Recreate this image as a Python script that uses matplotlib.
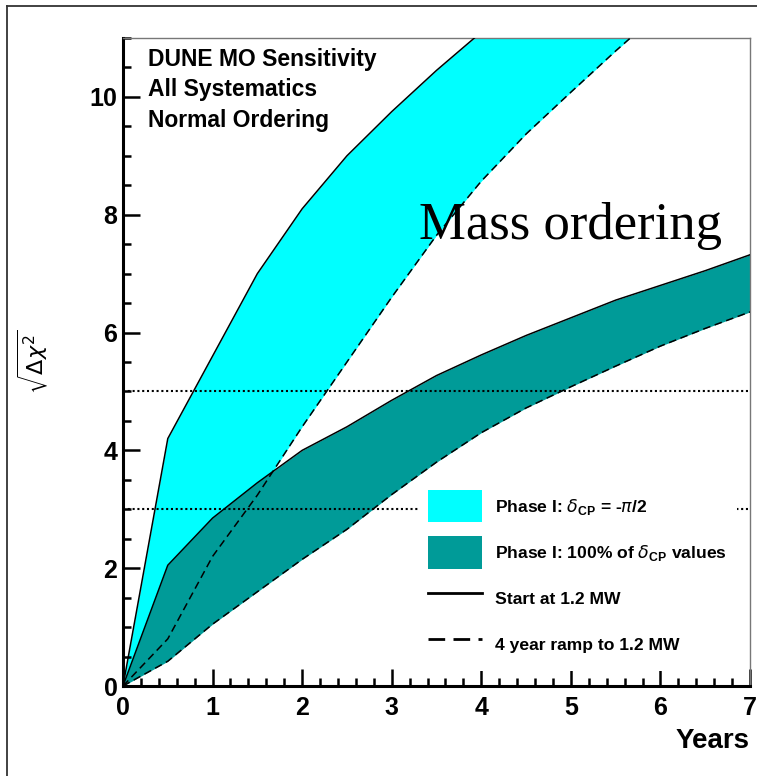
import matplotlib
matplotlib.use("Agg")
import matplotlib.pyplot as plt
from matplotlib.patches import Patch
from matplotlib.lines import Line2D
from matplotlib.ticker import MultipleLocator

plt.rcParams['font.family'] = ['Liberation Sans', 'DejaVu Sans']
plt.rcParams['mathtext.fontset'] = 'dejavusans'

# years of exposure
years_cyan = [0, 0.5, 1, 1.5, 2, 2.5, 3, 3.5, 4, 4.5, 5, 5.5, 6]
years_teal = [0, 0.5, 1, 1.5, 2, 2.5, 3, 3.5, 4, 4.5, 5, 5.5, 6, 6.5, 7]

# sqrt(dchi2), delta_CP = -pi/2
cyan_full = [0, 4.2, 5.6, 7.0, 8.1, 9.0, 9.75, 10.45, 11.1, 11.7, 12.2, 12.7, 13.1]
cyan_ramp = [0, 0.8, 2.2, 3.24, 4.4, 5.5, 6.6, 7.65, 8.57, 9.37, 10.08, 10.78, 11.45]

# sqrt(dchi2), 100% of delta_CP values
teal_full = [0, 2.05, 2.85, 3.45, 4.0, 4.4, 4.85, 5.27, 5.62, 5.95, 6.25, 6.55, 6.8, 7.05, 7.32]
teal_ramp = [0, 0.42, 1.05, 1.6, 2.15, 2.66, 3.25, 3.8, 4.3, 4.72, 5.08, 5.43, 5.77, 6.07, 6.35]

sigma_levels = [3, 5]

cyan = '#00FFFF'
teal = '#009B98'

fig = plt.figure(figsize=(7.57, 7.76), dpi=100)
ax = fig.add_axes([123/757, 90/776, 627/757, 648/776])

ax.fill_between(years_cyan, cyan_ramp, cyan_full, color=cyan, lw=0, zorder=1)
ax.fill_between(years_teal, teal_ramp, teal_full, color=teal, lw=0, zorder=2)

ax.plot(years_cyan, cyan_full, color='black', lw=1.1, zorder=3)
ax.plot(years_cyan, cyan_ramp, color='black', lw=1.1, dashes=(5, 3), zorder=3)
ax.plot(years_teal, teal_full, color='black', lw=1.1, zorder=3)
ax.plot(years_teal, teal_ramp, color='black', lw=1.1, dashes=(5, 3), zorder=3)

for s in sigma_levels:
    ax.axhline(s, color='black', lw=1.5, dashes=(1, 1.3), zorder=4)

ax.set_xlim(0, 7)
ax.set_ylim(0, 11)
ax.xaxis.set_major_locator(MultipleLocator(1))
ax.xaxis.set_minor_locator(MultipleLocator(0.2))
ax.yaxis.set_major_locator(MultipleLocator(2))
ax.yaxis.set_minor_locator(MultipleLocator(0.5))
ax.tick_params(which='both', direction='in', top=False, right=False, width=1.8)
ax.tick_params(which='major', length=12)
ax.tick_params(which='minor', length=5.5)
ax.tick_params(axis='x', pad=7, labelsize=18)
ax.tick_params(axis='y', pad=4, labelsize=18)
for lab in ax.get_xticklabels() + ax.get_yticklabels():
    lab.set_fontweight('bold')

for side in ['left', 'bottom']:
    ax.spines[side].set_linewidth(2.2)
for side in ['top', 'right']:
    ax.spines[side].set_linewidth(1.0)
    ax.spines[side].set_color('#777777')

ax.set_xlabel('Years', fontsize=20, fontweight='bold', ha='right')
ax.xaxis.set_label_coords(1.0, -0.065)
ax.set_ylabel(r'$\sqrt{\Delta\chi^{2}}$', fontsize=16)
ax.yaxis.set_label_coords(-0.116, 0.5)

ax.text(0.04, 0.985, 'DUNE MO Sensitivity\nAll Systematics\nNormal Ordering',
        transform=ax.transAxes, fontsize=16.5, fontweight='bold',
        va='top', ha='left', linespacing=1.42)
ax.text(3.3, 7.58, 'Mass ordering', family=['Liberation Serif', 'DejaVu Serif'],
        fontsize=38, va='baseline', ha='left', zorder=6)

handles = [
    Patch(facecolor=cyan, edgecolor='none'),
    Patch(facecolor=teal, edgecolor='none'),
    Line2D([], [], color='black', lw=2),
    Line2D([], [], color='black', lw=2, dashes=(6, 3, 6, 3, 1.5, 3)),
]
labels = [
    r'Phase I: $\delta_{\mathregular{CP}}$ = -$\pi$/2',
    r'Phase I: 100% of $\delta_{\mathregular{CP}}$ values',
    'Start at 1.2 MW',
    '4 year ramp to 1.2 MW',
]
leg = ax.legend(handles, labels, loc='upper left', bbox_to_anchor=(0.47, 0.318),
                prop={'weight': 'bold', 'size': 12.6}, frameon=True,
                facecolor='white', edgecolor='none', framealpha=1, fancybox=False,
                handlelength=3.1, handleheight=2.44, labelspacing=0.8,
                handletextpad=0.7, borderpad=0.6, borderaxespad=0)
leg.set_zorder(10)

# outer frame of the page (left and top edges)
fig.add_artist(Line2D([7/757, 7/757], [0, 1 - 6/776], transform=fig.transFigure,
                      color='#333333', lw=1.3))
fig.add_artist(Line2D([7/757, 1], [1 - 6/776, 1 - 6/776], transform=fig.transFigure,
                      color='#333333', lw=1.3))

fig.savefig('out.png', dpi=100)
